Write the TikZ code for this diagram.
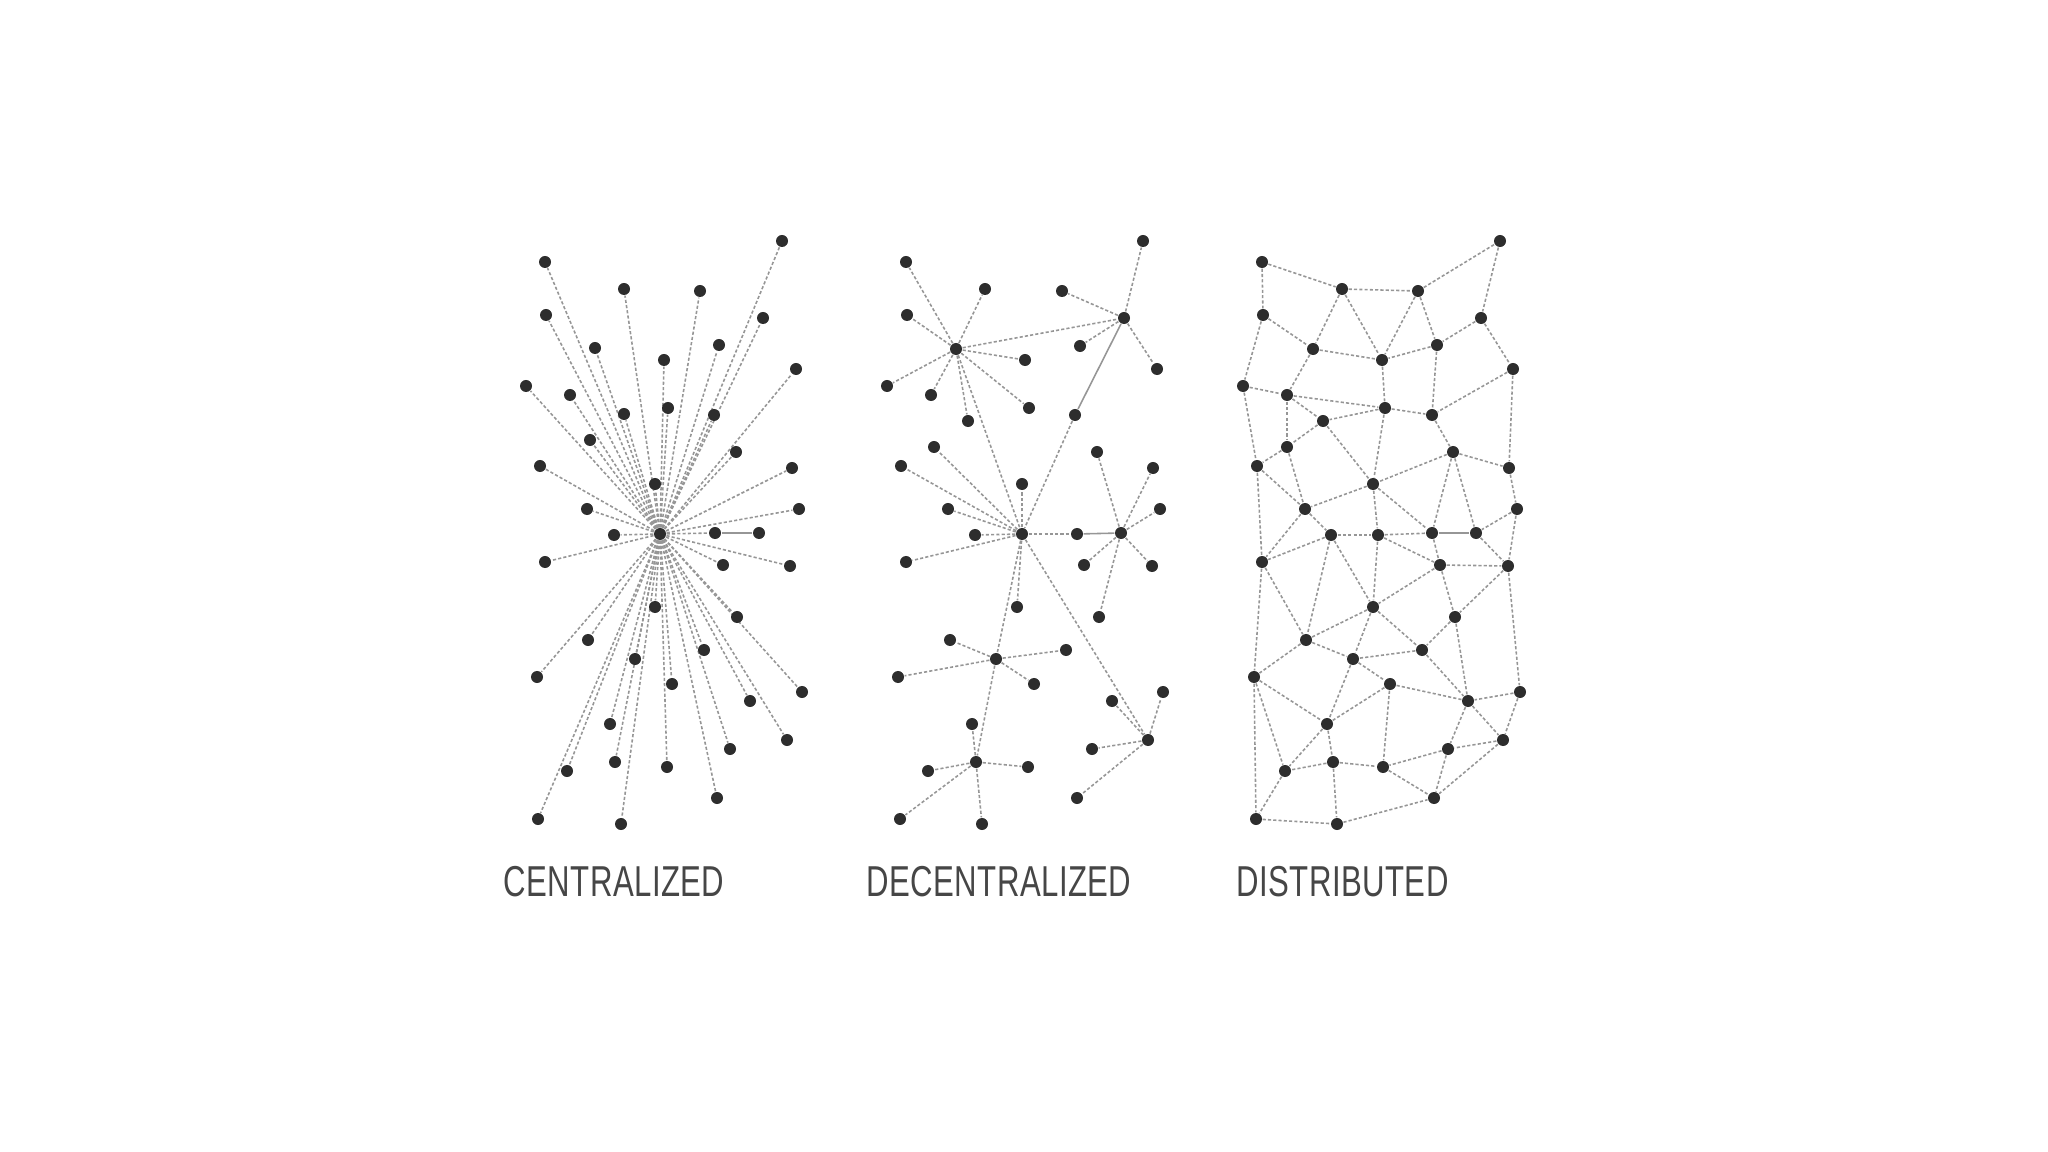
\documentclass[tikz,border=0pt]{standalone}
\usepackage{fontspec}
\usepackage{xcolor}
\usetikzlibrary{positioning,backgrounds}
\newfontfamily\labelfont{Liberation Sans}[FakeStretch=0.72, LetterSpace=1]
\definecolor{dotgray}{RGB}{45,45,45}
\definecolor{linkgray}{RGB}{150,150,150}
\definecolor{labgray}{RGB}{70,70,70}
\tikzset{
	dot/.style={circle, fill=dotgray, inner sep=0pt, minimum size=1.2mm},
	link/.style={draw=linkgray, line width=0.45pt, dash pattern=on 0.9pt off 0.6pt},
	solidlink/.style={draw=linkgray, line width=0.45pt},
	lab/.style={font=\labelfont\fontsize{12.3}{14}\selectfont, text=labgray, anchor=base west, inner sep=0pt},
}

\begin{document}
\begin{tikzpicture}[x=0.01cm, y=-0.01cm]
		\useasboundingbox (0,0) rectangle (2048,1152);
		
		% ------------------- Centralized -------------------
		\node[dot] (ch) at (660,534) {};
		\foreach \n/\x/\y in {c1/545/262, c2/624/289, c3/700/291, c4/782/241,
			c5/546/315, c6/763/318, c7/595/348, c8/719/345, c9/664/360,
			c10/796/369, c11/526/386, c12/570/395, c13/624/414, c14/668/408,
			c15/714/415, c16/590/440, c17/736/452, c18/540/466, c19/792/468,
			c20/655/484, c21/587/509, c22/799/509, c23/614/535, c24/715/533,
			c25/759/533, c26/545/562, c27/723/565, c28/790/566, c29/655/607,
			c30/737/617, c31/588/640, c32/704/650, c33/635/659, c34/537/677,
			c35/672/684, c36/802/692, c37/750/701, c38/610/724, c39/787/740,
			c40/730/749, c41/615/762, c42/667/767, c43/567/771, c44/717/798,
			c45/538/819, c46/621/824}
		\node[dot] (\n) at (\x,\y) {};
		
		\begin{scope}[on background layer]
			\foreach \i in {1,...,24,26,27,...,46}
			\draw[link] (ch) -- (c\i);
			\draw[solidlink] (c24) -- (c25);
		\end{scope}
		
		\node[lab] (labC) at (503,896) {CENTRALIZED};
		
		% ------------------- Decentralized -------------------
		\foreach \n/\x/\y in {da/956/349, da1/906/262, da2/985/289, da3/907/315,
			da4/1025/360, da5/887/386, da6/931/395, da7/1029/408, da8/968/421,
			db/1124/318, db1/1143/241, db2/1062/291, db3/1080/346, db4/1157/369,
			dc/1075/415,
			dm/1022/534, dm1/934/447, dm2/901/466, dm3/1022/484, dm4/948/509,
			dm5/975/535, dm6/906/562, dm7/1017/607,
			de/1121/533, de1/1077/534, de2/1097/452, de3/1153/468, de4/1160/509,
			de5/1084/565, de6/1152/566, de7/1099/617,
			df/996/659, df1/950/640, df2/1066/650, df3/898/677, df4/1034/684,
			dg/976/762, dg1/972/724, dg2/928/771, dg3/1028/767, dg4/900/819, dg5/982/824,
			dh/1148/740, dh1/1163/692, dh2/1112/701, dh3/1092/749, dh4/1077/798}
		\node[dot] (\n) at (\x,\y) {};
		
		\begin{scope}[on background layer]
			\foreach \a/\b in {da/da1, da/da2, da/da3, da/da4, da/da5, da/da6, da/da7, da/da8,
				da/db, da/dm, db/db1, db/db2, db/db3, db/db4, dc/dm,
				dm/dm1, dm/dm2, dm/dm3, dm/dm4, dm/dm5, dm/dm6, dm/dm7, dm/de1, dm/df, dm/dh,
				de/de2, de/de3, de/de4, de/de5, de/de6, de/de7,
				df/df1, df/df2, df/df3, df/df4, df/dg,
				dg/dg1, dg/dg2, dg/dg3, dg/dg4, dg/dg5,
				dh/dh1, dh/dh2, dh/dh3, dh/dh4}
			\draw[link] (\a) -- (\b);
			\draw[solidlink] (db) -- (dc);
			\draw[solidlink] (de1) -- (de);
		\end{scope}
		
		\node[lab] (labD) at (866,896) {DECENTRALIZED};
		
		% ------------------- Distributed -------------------
		\foreach \n/\x/\y in {p1/1262/262, p2/1342/289, p3/1418/291, p4/1500/241,
			p5/1263/315, p6/1481/318, p7/1313/349, p8/1437/345, p9/1382/360,
			p10/1513/369, p11/1243/386, p12/1287/395, p13/1385/408, p14/1432/415,
			p15/1323/421, p16/1287/447, p17/1453/452, p18/1257/466, p19/1509/468,
			p20/1373/484, p21/1305/509, p22/1517/509, p23/1331/535, p24/1378/535,
			p25/1432/533, p26/1476/533,
			q1/1262/562, q2/1440/565, q3/1508/566, q4/1373/607, q5/1455/617,
			q6/1306/640, q7/1422/650, q8/1353/659, q9/1254/677, q10/1390/684,
			q11/1520/692, q12/1468/701, q13/1327/724, q14/1503/740, q15/1448/749,
			q16/1333/762, q17/1383/767, q18/1285/771, q19/1434/798, q20/1256/819,
			q21/1337/824}
		\node[dot] (\n) at (\x,\y) {};
		
		\begin{scope}[on background layer]
			\foreach \a/\b in {p1/p2, p1/p5, p2/p3, p3/p4, p4/p6, p2/p7, p5/p7, p2/p9,
				p3/p9, p3/p8, p6/p8, p6/p10, p7/p9, p8/p9, p5/p11, p7/p12, p11/p12,
				p12/p13, p9/p13, p8/p14, p13/p14, p10/p14, p12/p15, p13/p15, p12/p16,
				p15/p16, p11/p18, p16/p18, p14/p17, p10/p19, p17/p19, p15/p20, p13/p20,
				p17/p20, p18/p21, p16/p21, p20/p21, p19/p22, p21/p23, p20/p24, p20/p25,
				p17/p25, p17/p26, p22/p26, p23/p24, p24/p25, p26/q3, p22/q3, p18/q1,
				p21/q1, p23/q1, p23/q6, p23/q4, p24/q4, p24/q2, p25/q2,
				q2/q3, q2/q4, q2/q5, q3/q5, q3/q11, q4/q6, q4/q7, q4/q8, q5/q7, q5/q12,
				q1/q6, q1/q9, q6/q8, q6/q9, q7/q8, q7/q12, q8/q10, q8/q13, q10/q12,
				q10/q13, q10/q17, q9/q13, q9/q18, q9/q20, q11/q12, q11/q14, q12/q14,
				q12/q15, q13/q16, q13/q18, q16/q18, q16/q17, q16/q21, q15/q17, q17/q19,
				q14/q15, q15/q19, q14/q19, q18/q20, q20/q21, q21/q19}
			\draw[link] (\a) -- (\b);
			\draw[solidlink] (p25) -- (p26);
		\end{scope}
		
		\node[lab] (labS) at (1236,896) {DISTRIBUTED};
		
\end{tikzpicture}
\end{document}
